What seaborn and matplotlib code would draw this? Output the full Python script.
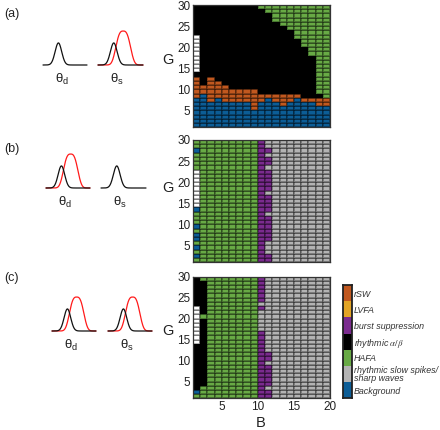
import numpy as np
import seaborn as sns
import matplotlib
matplotlib.use('Agg')
import matplotlib.pyplot as plt
from matplotlib.colors import ListedColormap

# --- data ---------------------------------------------------------------
# states, top of the colour bar first
STATE_LABELS = ['rSW', 'LVFA', 'burst suppression', r'rhythmic $\alpha/\beta$', 'HAFA',
                'rhythmic slow spikes/\nsharp waves', 'Background']
STATE_KEYS = ['r', 'l', 'p', 'k', 'h', 'g', 'b']
STATE_COLORS = ['#c1581f', '#e2a425', '#7b2b8f', '#000000', '#68aa45', '#b3b3b3', '#0c5d96']
NODATA_COLOR = '#ffffff'   # key 'w'

B_TICKS = [5, 10, 15, 20]
G_TICKS = [5, 10, 15, 20, 25, 30]
N_G = 29   # pcolor-style cells between G=1..30 (and B=1..20)

# one string per B column (B=1..19), runs from G=1 upwards: '7b' = 7 cells Background
PANEL_A = ['7b 5r 1k 9w 7k', '8b 2r 19k', '6b 6r 17k', '7b 4r 18k', '6b 4r 19k',
           '6b 3r 20k', '6b 3r 20k', '6b 3r 20k', '4b 5r 20k', '6b 2r 20k 1h',
           '7b 1r 19k 2h', '6b 2r 17k 4h', '5b 3r 16k 5h', '6b 2r 15k 6h', '7b 1r 13k 8h',
           '6b 1r 12k 10h', '6b 1r 10k 12h', '5b 2r 1k 21h', '5b 2r 22h']
PANEL_B = (['1h 1b 1h 1b 1h 2b 1h 1b 3h 1b 9w 4h 1b 2h'] + ['29h'] * 8 + ['29p',
           '2p 3g 6p 1g 4p 1g 5p 1g 2p 1g 1p 2g'] + ['29g'] * 8)
PANEL_C = (['1h 1b 11k 9w 7k', '3h 16k 1h 8k 1h'] + ['29h'] * 7 +
           ['16p 5g 1p 1g 6p', '2p 1g 5p 1g 2p 18g'] + ['29g'] * 8)

# schematic tuning curves (height, centre, width) on a 0..1 axis
BLACK_CURVE = (0.65, 0.35, 0.075)
RED_CURVE = (1.0, 0.56, 0.19)
RED_SHOWN = {'a': (False, True), 'b': (True, False), 'c': (True, True)}

W, H = 440, 430


def px_box(x0, y0, x1, y1):
    return [x0 / W, 1 - y1 / H, (x1 - x0) / W, (y1 - y0) / H]


def panel_grid(panel):
    cols = []
    for runs in panel:
        keys = ''.join(tok[-1] * int(tok[:-1]) for tok in runs.split())
        cols.append([STATE_KEYS.index(k) if k in STATE_KEYS else len(STATE_KEYS) for k in keys])
    return np.array(cols).T


sns.set_theme(style='white')
plt.rcParams['font.family'] = ['Liberation Sans', 'DejaVu Sans']
plt.rcParams['mathtext.fontset'] = 'stix'

fig = plt.figure(figsize=(4.4, 4.3), dpi=100)
cmap = ListedColormap(STATE_COLORS + [NODATA_COLOR])

heat_boxes = {'a': (193, 5, 330, 127.3), 'b': (193, 140, 330, 262.3), 'c': (193, 276.7, 330, 398.3)}
g_label_y = {'a': 60, 'b': 188, 'c': 331}
letter_y = {'a': 14, 'b': 149, 'c': 278}
curve_boxes = {'a': ((43, 87), (98, 143), 65), 'b': ((46, 90), (101, 146), 188),
               'c': ((52, 96), (108, 152), 331)}

for key, panel in zip('abc', [PANEL_A, PANEL_B, PANEL_C]):
    ax = fig.add_axes(px_box(*heat_boxes[key]))
    sns.heatmap(panel_grid(panel), ax=ax, cmap=cmap, vmin=-0.5, vmax=7.5, cbar=False,
                linewidths=0.35, linecolor=(0, 0, 0, 0.3), xticklabels=False, yticklabels=False)
    ax.set_ylim(0, N_G)
    ax.set_yticks([g - 1 for g in G_TICKS])
    ax.set_yticklabels(G_TICKS, rotation=0)
    if key == 'c':
        ax.set_xticks([b - 1 for b in B_TICKS])
        ax.set_xticklabels(B_TICKS, rotation=0)
    else:
        ax.set_xticks([])
    ax.tick_params(length=0, labelsize=8.5, pad=2, colors='#222222')
    for s in ax.spines.values():
        s.set_visible(True)
        s.set_color('#333333')
        s.set_linewidth(0.9)

    fig.text(168 / W, 1 - g_label_y[key] / H, 'G', ha='center', va='center', fontsize=10.5, color='#222222')
    fig.text(4 / W, 1 - letter_y[key] / H, f'({key})', ha='left', va='center', fontsize=9, color='#222222')

    # tuning curves for theta_d and theta_s
    (dx0, dx1), (sx0, sx1), base = curve_boxes[key]
    x = np.linspace(0, 1, 300)
    for (x0, x1), red, sub in zip([(dx0, dx1), (sx0, sx1)], RED_SHOWN[key], ['d', 's']):
        cax = fig.add_axes(px_box(x0, base - 36, x1, base))
        cax.set_xlim(0, 1)
        cax.set_ylim(0, 1.06)
        if red:
            h, c, w = RED_CURVE
            sns.lineplot(x=x, y=h * np.exp(-np.abs((x - c) / w) ** 3), ax=cax, color='#ff1a1a',
                         lw=0.9, clip_on=False)
        h, c, w = BLACK_CURVE
        sns.lineplot(x=x, y=h * np.exp(-0.5 * ((x - c) / w) ** 2), ax=cax, color='#111111',
                     lw=0.9, clip_on=False)
        cax.axis('off')
        fig.text((x0 + 0.43 * (x1 - x0)) / W, 1 - (base + 14) / H, rf'$\mathregular{{θ_{sub}}}$',
                 ha='center', va='center', fontsize=9.5, color='#222222')

fig.text(261 / W, 1 - 423 / H, 'B', ha='center', va='center', fontsize=10.5, color='#222222')

# colour bar with the state names
cb = fig.add_axes(px_box(343.3, 285, 351.7, 398.3))
sns.heatmap(np.arange(len(STATE_COLORS)).reshape(-1, 1), ax=cb, cmap=ListedColormap(STATE_COLORS),
            vmin=-0.5, vmax=len(STATE_COLORS) - 0.5, cbar=False, xticklabels=False,
            yticklabels=STATE_LABELS)
cb.yaxis.tick_right()
cb.tick_params(length=0, pad=1.5)
for t in cb.get_yticklabels():
    t.set_rotation(0)
    t.set_fontstyle('italic')
    t.set_fontsize(6.4)
    t.set_color('#333333')
    t.set_linespacing(0.85)
    t.set_ha('left')
for s in cb.spines.values():
    s.set_visible(True)
    s.set_color('#222222')
    s.set_linewidth(1.3)

fig.savefig('out.png', dpi=100)
